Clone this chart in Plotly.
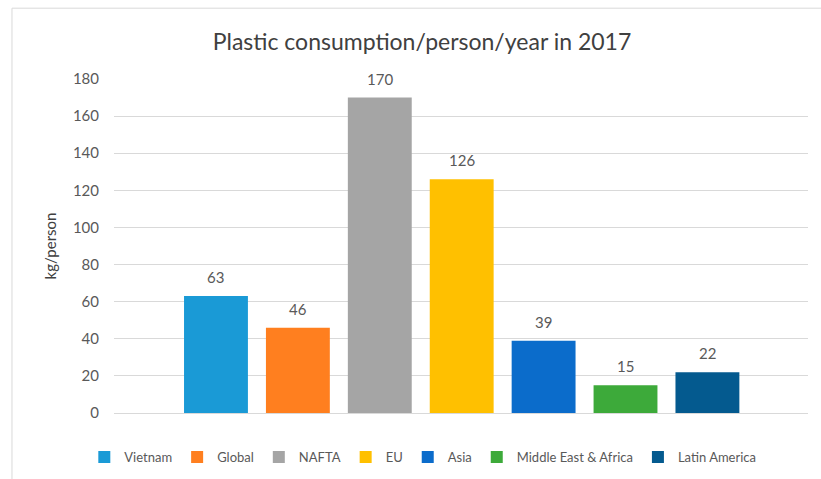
import plotly.graph_objects as go

regions = ["Vietnam", "Global", "NAFTA", "EU", "Asia", "Middle East & Africa", "Latin America"]
values = [63, 46, 170, 126, 39, 15, 22]
colors = ["#1A9AD6", "#FF7F1F", "#A5A5A5", "#FFC000", "#0B6CCB", "#3DAA3A", "#045A8F"]
y_ticks = [0, 20, 40, 60, 80, 100, 120, 140, 160, 180]

FONT = "Lato"
TXT = "#595959"

fig = go.Figure()
for r, v, c in zip(regions, values, colors):
    fig.add_trace(go.Bar(
        x=[r], y=[v], name=r, marker=dict(color=c, line=dict(width=0)),
        hoverinfo="x+y",
    ))

for r, v in zip(regions, values):
    fig.add_annotation(x=r, y=v, text=str(v), showarrow=False, yshift=19,
                       font=dict(family=FONT, size=15, color=TXT))

fig.update_layout(
    width=821, height=479,
    margin=dict(l=114, r=13, t=79, b=66, autoexpand=False),
    paper_bgcolor="white", plot_bgcolor="white",
    barmode="overlay", bargap=0.22,
    title=dict(text="Plastic consumption/person/year in 2017", x=0.514, xanchor="center",
               y=1 - 42 / 479, yanchor="middle", yref="container",
               font=dict(family=FONT, size=23, color="#404040")),
    font=dict(family=FONT, size=14, color=TXT),
    showlegend=True,
    legend=dict(orientation="h", xref="container", yref="container",
                x=0.515, xanchor="center", y=(479 - 442) / 479, yanchor="top",
                font=dict(family=FONT, size=13, color=TXT), itemwidth=30,
                traceorder="normal"),
    shapes=[dict(type="rect", xref="paper", yref="paper", x0=-0.147, x1=1.2, y0=-0.3, y1=1.212,
                 line=dict(color="#D9D9D9", width=1), layer="below")],
)
fig.update_xaxes(type="category", categoryorder="array", categoryarray=regions,
                 range=[-1.245, 7.228], showticklabels=False, showgrid=False,
                 zeroline=False, showline=False, ticks="")
fig.update_yaxes(range=[0, 180], tickvals=y_ticks, showgrid=True, gridcolor="#D9D9D9",
                 gridwidth=1, zeroline=True, zerolinecolor="#D9D9D9", zerolinewidth=1,
                 showline=False, ticks="", ticklabelstandoff=14,
                 tickfont=dict(family=FONT, size=15, color=TXT),
                 title=dict(text="kg/person", standoff=12,
                            font=dict(family=FONT, size=15, color="#404040")))

fig.write_html("out.html")
